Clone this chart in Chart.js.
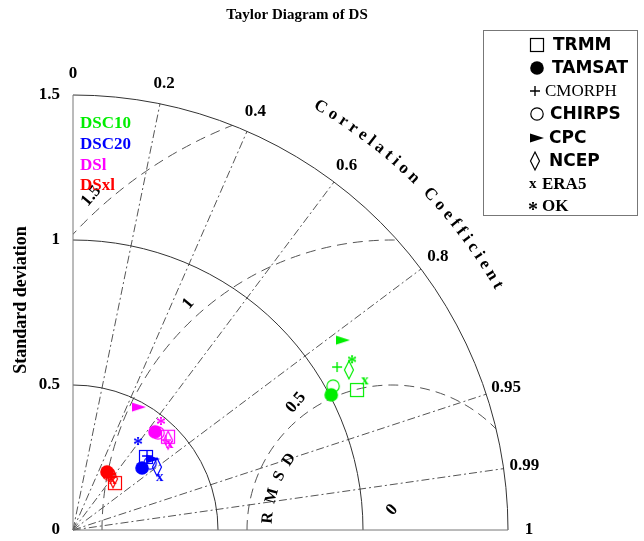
<!DOCTYPE html>
<html>
<head>
<meta charset="utf-8">
<title>Taylor Diagram of DS</title>
<script src="https://cdn.jsdelivr.net/npm/chart.js@4.4.1/dist/chart.umd.min.js"></script>
<style>
  html, body { margin: 0; padding: 0; background: #fff; }
  #wrap { width: 644px; height: 541px; }
</style>
</head>
<body>
<div id="wrap"><canvas id="taylor" width="644" height="541"></canvas></div>
<script>
// --- data ---
const products = ['TRMM', 'TAMSAT', 'CMORPH', 'CHIRPS', 'CPC', 'NCEP', 'ERA5', 'OK'];
const markerKinds = ['square', 'dot', 'plus', 'ring', 'tri', 'diamond', 'x', 'star'];
const groups = ['DSC10', 'DSC20', 'DSl', 'DSxl'];
const groupColors = ['#00ee00', '#0000ff', '#ff00ff', '#ff0000'];

// standard deviation and correlation, same order as products
const stdDSC10  = [1.092, 1.005, 1.070, 1.025, 1.138, 1.100, 1.132, 1.128];
const corrDSC10 = [0.897, 0.886, 0.851, 0.875, 0.818, 0.865, 0.890, 0.853];
const stdDSC20  = [0.356, 0.320, 0.361, 0.352, 0.369, 0.362, 0.351, 0.380];
const corrDSC20 = [0.707, 0.744, 0.707, 0.755, 0.748, 0.800, 0.854, 0.590];
const stdDSl    = [0.459, 0.441, 0.446, 0.445, 0.481, 0.451, 0.447, 0.483];
const corrDSl   = [0.714, 0.641, 0.719, 0.659, 0.473, 0.727, 0.748, 0.628];
const stdDSxl   = [0.217, 0.232, 0.225, 0.229, 0.232, 0.224, 0.221, 0.226];
const corrDSxl  = [0.667, 0.505, 0.582, 0.541, 0.552, 0.616, 0.625, 0.566];

const refStd = 1.1;
const stdTicks = [0, 0.5, 1, 1.5];
const corrTicks = [0, 0.2, 0.4, 0.6, 0.8, 0.95, 0.99, 1];
const rmsTicks = [0.5, 1, 1.5];
const rmsLabelAngles = [127, 132, 132];   // degrees, around the reference point

const stdSets = [stdDSC10, stdDSC20, stdDSl, stdDSxl];
const corrSets = [corrDSC10, corrDSC20, corrDSl, corrDSxl];

const SERIF = '"Liberation Serif", "Times New Roman", serif';
const SANS = '"DejaVu Sans", sans-serif';

// small canvases used as point styles (and in the legend)
function markerCanvas(kind, color) {
  const c = document.createElement('canvas');
  c.width = 24; c.height = 24;
  const g = c.getContext('2d');
  const m = 12;
  g.strokeStyle = color; g.fillStyle = color; g.lineWidth = 1.2;
  if (kind === 'square') {
    g.strokeRect(m - 6.5, m - 6.5, 13, 13);
  } else if (kind === 'dot') {
    g.beginPath(); g.arc(m, m, 6.8, 0, 2 * Math.PI); g.fill();
  } else if (kind === 'plus') {
    g.lineWidth = 1.4;
    g.beginPath(); g.moveTo(m - 5, m); g.lineTo(m + 5, m); g.moveTo(m, m - 5); g.lineTo(m, m + 5); g.stroke();
  } else if (kind === 'ring') {
    g.beginPath(); g.arc(m, m, 6.2, 0, 2 * Math.PI); g.stroke();
  } else if (kind === 'tri') {
    g.beginPath(); g.moveTo(m - 7, m - 4.5); g.lineTo(m + 7, m); g.lineTo(m - 7, m + 4.5); g.closePath(); g.fill();
  } else if (kind === 'diamond') {
    g.beginPath(); g.moveTo(m, m - 9); g.lineTo(m + 4.5, m); g.lineTo(m, m + 9); g.lineTo(m - 4.5, m); g.closePath(); g.stroke();
  } else {
    const ch = kind === 'x' ? 'x' : '*';
    g.font = 'bold ' + (kind === 'x' ? 15 : 20) + 'px ' + SERIF;
    g.textAlign = 'left'; g.textBaseline = 'alphabetic';
    const mt = g.measureText(ch);
    const w = mt.actualBoundingBoxLeft + mt.actualBoundingBoxRight;
    const h = mt.actualBoundingBoxAscent + mt.actualBoundingBoxDescent;
    g.fillText(ch, m - w / 2 + mt.actualBoundingBoxLeft, m + h / 2 - mt.actualBoundingBoxDescent);
  }
  return c;
}

// text laid along an arc, running clockwise, letters facing outward
function arcText(ctx, text, cx, cy, r, midDeg, spacing) {
  const chars = [...text];
  const w = chars.map(ch => ctx.measureText(ch).width);
  const span = w.reduce((a, b) => a + b, 0) + spacing * (chars.length - 1);
  let a = midDeg * Math.PI / 180 + span / 2 / r;
  chars.forEach((ch, i) => {
    const ac = a - w[i] / 2 / r;
    ctx.save();
    ctx.translate(cx + r * Math.cos(ac), cy - r * Math.sin(ac));
    ctx.rotate(Math.PI / 2 - ac);
    ctx.fillText(ch, 0, 0);
    ctx.restore();
    a -= (w[i] + spacing) / r;
  });
}

const taylorGrid = {
  id: 'taylorGrid',
  beforeDatasetsDraw(chart) {
    const { ctx, scales: { x, y } } = chart;
    const ox = x.getPixelForValue(0), oy = y.getPixelForValue(0);
    const u = x.getPixelForValue(1) - ox;
    const R = 1.5 * u;
    ctx.save();

    // RMSD circles, kept inside the quarter disk
    ctx.save();
    ctx.beginPath(); ctx.moveTo(ox, oy); ctx.arc(ox, oy, R, -Math.PI / 2, 0); ctx.closePath(); ctx.clip();
    ctx.strokeStyle = '#555'; ctx.lineWidth = 1; ctx.setLineDash([10, 6]);
    const rx = x.getPixelForValue(refStd);
    rmsTicks.forEach(r => { ctx.beginPath(); ctx.arc(rx, oy, r * u, Math.PI, 2 * Math.PI); ctx.stroke(); });
    ctx.restore();

    // correlation rays
    ctx.strokeStyle = '#555'; ctx.lineWidth = 1; ctx.setLineDash([8, 3, 2, 3]);
    corrTicks.filter(c => c > 0 && c < 1).forEach(c => {
      const a = Math.acos(c);
      ctx.beginPath(); ctx.moveTo(ox, oy); ctx.lineTo(ox + R * Math.cos(a), oy - R * Math.sin(a)); ctx.stroke();
    });

    // std arcs and the two axes
    ctx.setLineDash([]); ctx.strokeStyle = '#333';
    stdTicks.filter(s => s > 0).forEach(s => {
      ctx.beginPath(); ctx.arc(ox, oy, s * u, -Math.PI / 2, 0); ctx.stroke();
    });
    ctx.strokeStyle = '#777';
    ctx.beginPath(); ctx.moveTo(ox, oy - R); ctx.lineTo(ox, oy); ctx.lineTo(ox + R, oy); ctx.stroke();

    ctx.fillStyle = '#000';
    ctx.font = 'bold 17px ' + SERIF;
    ctx.textBaseline = 'middle';

    // std tick labels
    ctx.textAlign = 'right';
    stdTicks.forEach(s => ctx.fillText(String(s), ox - 13, y.getPixelForValue(s)));

    // correlation tick labels
    ctx.textAlign = 'center';
    corrTicks.forEach(c => {
      const a = Math.acos(c);
      ctx.fillText(String(c), ox + (R + 21) * Math.cos(a), oy - (R + 21) * Math.sin(a));
    });

    // RMSD labels
    rmsTicks.forEach((r, i) => {
      const a = rmsLabelAngles[i] * Math.PI / 180;
      ctx.save();
      ctx.translate(rx + (r + 0.05) * u * Math.cos(a), oy - (r + 0.05) * u * Math.sin(a));
      ctx.rotate(-50 * Math.PI / 180);
      ctx.fillText(String(r), 0, 0);
      ctx.restore();
    });
    ctx.save();
    ctx.translate(rx, oy - 20);
    ctx.rotate(-50 * Math.PI / 180);
    ctx.fillText('0', 0, 0);
    ctx.restore();

    // curved titles
    arcText(ctx, 'Correlation Coefficient', ox, oy, 1.69 * u, 45, 4.3);
    ctx.font = 'bold 16px ' + SERIF;
    arcText(ctx, 'R M S D', rx, oy, 0.43 * u, 160, 2.5);

    // y title
    ctx.font = 'bold 18px ' + SERIF;
    ctx.save();
    ctx.translate(21, 300);
    ctx.rotate(-Math.PI / 2);
    ctx.fillText('Standard deviation', 0, 0);
    ctx.restore();

    // group labels
    ctx.font = 'bold 17px ' + SERIF;
    ctx.textAlign = 'left';
    groups.forEach((gname, i) => {
      ctx.fillStyle = groupColors[i];
      ctx.fillText(gname, ox + 7, oy - R + 29 + i * 20.7);
    });

    // main title
    ctx.fillStyle = '#000';
    ctx.textAlign = 'center';
    ctx.font = 'bold 15px ' + SERIF;
    ctx.fillText('Taylor Diagram of DS', 297, 15);

    ctx.restore();
  },
  afterDraw(chart) {
    // product legend (black markers)
    const ctx = chart.ctx;
    const rowY = [45, 68, 91, 114, 138, 161, 184, 206];
    const textX = [553, 552, 545, 550, 549, 549, 542, 542];
    const fonts = ['bold 17px ' + SANS, 'bold 17px ' + SANS, '17px ' + SERIF, 'bold 17px ' + SANS,
                   'bold 17px ' + SANS, 'bold 17px ' + SANS, 'bold 17px ' + SERIF, 'bold 17px ' + SERIF];
    const markX = [537, 537, 535, 537, 537, 535, 533, 533];
    ctx.save();
    ctx.strokeStyle = '#777'; ctx.lineWidth = 1;
    ctx.strokeRect(483.5, 30.5, 154, 185);
    ctx.fillStyle = '#000';
    ctx.textAlign = 'left'; ctx.textBaseline = 'middle';
    products.forEach((p, i) => {
      const mc = markerCanvas(markerKinds[i], '#000');
      ctx.drawImage(mc, markX[i] - 12, rowY[i] - 12);
      ctx.font = fonts[i];
      ctx.fillText(p, textX[i], rowY[i] + 1);
    });
    ctx.restore();
  }
};

const datasets = groups.map((gname, gi) => ({
  label: gname,
  data: stdSets[gi].map((s, k) => ({
    x: s * corrSets[gi][k],
    y: s * Math.sqrt(1 - corrSets[gi][k] * corrSets[gi][k])
  })),
  pointStyle: markerKinds.map(kind => markerCanvas(kind, groupColors[gi])),
  pointRadius: 8,
  showLine: false
}));

new Chart(document.getElementById('taylor'), {
  type: 'scatter',
  data: { datasets: datasets },
  options: {
    responsive: false,
    animation: false,
    layout: { padding: { left: 73, top: 95, right: 136, bottom: 11 } },
    scales: {
      x: { type: 'linear', min: 0, max: 1.5, display: false },
      y: { type: 'linear', min: 0, max: 1.5, display: false }
    },
    plugins: {
      legend: { display: false },
      tooltip: { enabled: false },
      title: { display: false }
    }
  },
  plugins: [taylorGrid]
});
</script>
</body>
</html>
